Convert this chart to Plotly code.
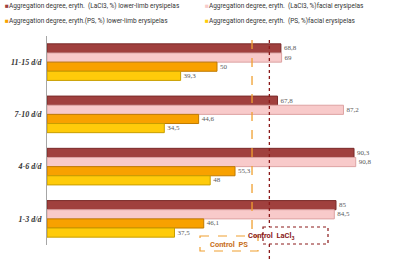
import plotly.graph_objects as go

categories = ["11-15 d/d", "7-10 d/d", "4-6 d/d", "1-3 d/d"]
series_names = [
    "Aggregation degree, eryth.  (LaCl3, %) lower-limb erysipelas",
    "Aggregation degree, eryth.  (LaCl3, %)facial erysipelas",
    "Aggregation degree, eryth.(PS, %) lower-limb erysipelas",
    "Aggregation degree, eryth.  (PS, %)facial erysipelas",
]
lacl3_lower = [68.8, 67.8, 90.3, 85]
lacl3_facial = [69, 87.2, 90.8, 84.5]
ps_lower = [50, 44.6, 55.3, 46.1]
ps_facial = [39.3, 34.5, 48, 37.5]
series_values = [lacl3_lower, lacl3_facial, ps_lower, ps_facial]
control_labels = ["Control  PS", "Control  LaCl<sub>3</sub>"]
control_values = [60.3, 65.4]

fills = ["#A0403E", "#F8CACA", "#F8A100", "#FFCB0A"]
borders = ["#7A2A29", "#DDA3A3", "#C07A00", "#C89E00"]

W, H = 400, 260
L, R, T, B = 47, 13, 36, 15
PW, PH = W - L - R, H - T - B

def px_x(px):
    return (px - L) / PW

def px_y(py):
    return 1 - (py - T) / PH

def fmt(v):
    return f"{v:g}".replace(".", ",")

fig = go.Figure()
for name, vals, fc, bc in zip(series_names, series_values, fills, borders):
    fig.add_trace(go.Bar(
        y=categories, x=vals, orientation="h", name=name,
        marker=dict(color=fc, line=dict(color=bc, width=1)),
        text=[fmt(v) for v in vals], textposition="outside",
        textfont=dict(family="Liberation Serif", size=7, color="#595959"),
        cliponaxis=False, showlegend=False,
    ))

# control lines
line_styles = [("#F0A030", "dash", px_y(40), px_y(237)), ("#8B1A1A", "dot", px_y(40), px_y(262))]
for cv, (col, dash, y0, y1) in zip(control_values, line_styles):
    fig.add_shape(type="line", xref="x", yref="paper", x0=cv, x1=cv, y0=y0, y1=y1,
                  line=dict(color=col, width=1.3, dash=dash), layer="above")

# control boxes
fig.add_shape(type="rect", xref="paper", yref="paper", x0=px_x(200), x1=px_x(258), y0=px_y(236), y1=px_y(251),
              line=dict(color="#F0A030", width=1.2, dash="dash"), fillcolor="white", layer="above")
fig.add_shape(type="rect", xref="paper", yref="paper", x0=px_x(263), x1=px_x(328), y0=px_y(227), y1=px_y(244),
              line=dict(color="#8B1A1A", width=1.2, dash="dot"), fillcolor="white", layer="above")
fig.add_annotation(x=px_x(229), y=px_y(244), xref="paper", yref="paper", text=f"<b>{control_labels[0]}</b>",
                   showarrow=False, yanchor="middle", font=dict(family="Roboto", size=7.5, color="#C8701A"))
fig.add_annotation(x=px_x(296), y=px_y(236), xref="paper", yref="paper", text=f"<b>{control_labels[1]}</b>",
                   showarrow=False, yanchor="middle", font=dict(family="Roboto", size=7.5, color="#8B1A1A"))

# legend as text
leg_px = [(3, 6), (203, 6), (3, 21), (203, 21)]
for name, fc, (px, py) in zip(series_names, fills, leg_px):
    fig.add_annotation(x=px_x(px), y=px_y(py), xref="paper", yref="paper",
                       xanchor="left", yanchor="middle", showarrow=False,
                       text=f"<span style='color:{fc}'>■</span>{name}",
                       font=dict(family="Roboto", size=6.5, color="#333333"))

fig.update_layout(
    width=W, height=H,
    margin=dict(l=L, r=R, t=T, b=B, autoexpand=False),
    barmode="group", bargap=0.3, bargroupgap=0.0,
    plot_bgcolor="white", paper_bgcolor="white",
    xaxis=dict(range=[0, 100], visible=False),
    yaxis=dict(autorange="reversed", showline=True, linecolor="#A6A6A6", linewidth=1,
               automargin=False, ticks="outside", ticklen=3, tickcolor="rgba(0,0,0,0)",
               tickprefix="<b><i>", ticksuffix="</i></b>",
               tickfont=dict(family="Liberation Serif", size=8, color="#333333")),
    font=dict(family="Roboto"),
)
fig.write_html("out.html", config={"displayModeBar": False},
               post_script="document.body.style.margin='0';document.body.style.padding='0';")
